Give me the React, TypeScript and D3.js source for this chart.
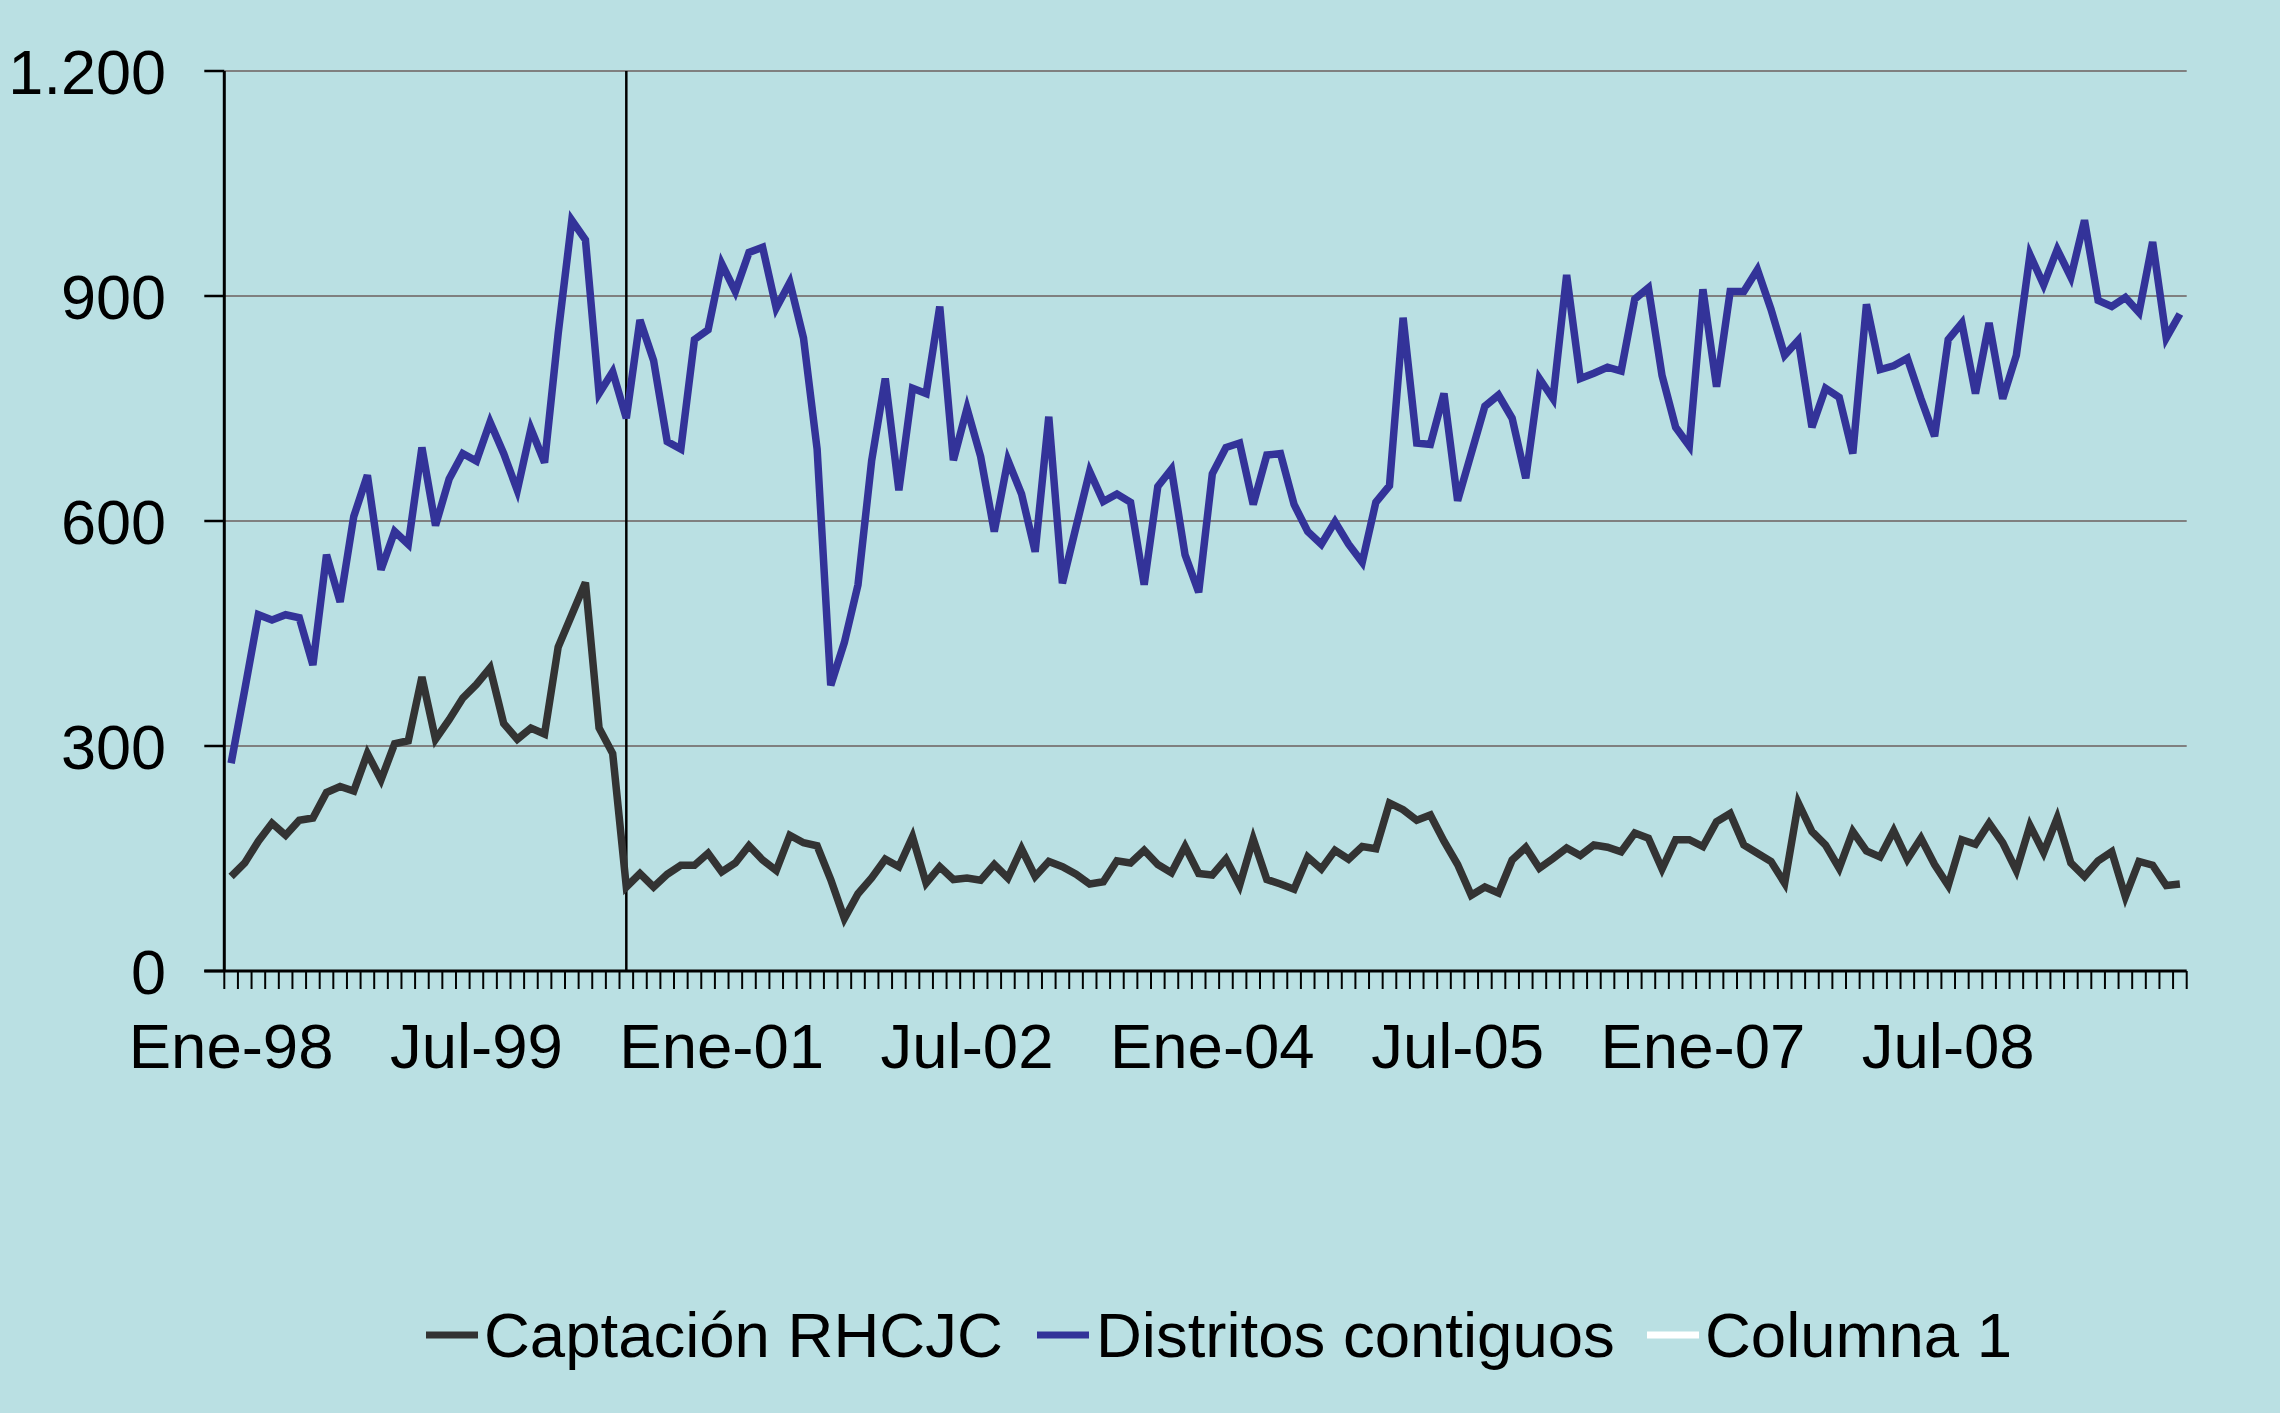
import React from "react";
import * as d3 from "d3";

const MONTHS = ["Ene", "Feb", "Mar", "Abr", "May", "Jun", "Jul", "Ago", "Sep", "Oct", "Nov", "Dic"];
const START_YEAR = 1998;
const N_MONTHS = 144;
const categories: string[] = Array.from({ length: N_MONTHS }, (_, i) => {
  const y = START_YEAR + Math.floor(i / 12);
  return `${MONTHS[i % 12]}-${String(y % 100).padStart(2, "0")}`;
});

const captacion = [
  126, 144, 173, 197, 181, 201, 204, 238, 246, 240, 290, 255, 303, 307, 392, 309, 335, 364, 382, 404, 330, 309, 324, 316,
  432, 475, 518, 324, 290, 112, 130, 112, 129, 141, 141, 157, 132, 144, 167, 148, 134, 181, 171, 167, 122, 70, 103, 124,
  149, 139, 179, 117, 139, 122, 124, 121, 142, 124, 163, 126, 146, 139, 129, 116, 119, 147, 144, 161, 142, 131, 166, 130,
  128, 149, 114, 176, 122, 116, 109, 152, 136, 161, 149, 166, 163, 224, 215, 201, 208, 173, 142, 101, 112, 104, 148, 165,
  137, 150, 164, 154, 168, 165, 159, 184, 177, 136, 175, 175, 166, 199, 210, 168, 157, 146, 117, 224, 186, 168, 137, 186,
  160, 152, 187, 149, 177, 142, 114, 175, 169, 197, 171, 134, 194, 158, 204, 144, 126, 147, 159, 99, 146, 141, 114, 116,
];

const distritos = [
  277, 375, 475, 468, 475, 471, 408, 555, 492, 606, 661, 535, 586, 569, 698, 594, 656, 690, 680, 732, 690, 641, 723, 678,
  850, 1001, 975, 770, 799, 737, 868, 814, 706, 696, 842, 855, 943, 906, 958, 965, 884, 918, 844, 696, 381, 438, 515, 680,
  790, 641, 777, 770, 886, 681, 750, 686, 586, 681, 636, 559, 739, 517, 592, 666, 626, 636, 625, 515, 646, 669, 555, 505,
  663, 698, 704, 622, 688, 690, 622, 586, 569, 599, 569, 545, 625, 647, 871, 704, 702, 770, 627, 690, 753, 768, 737, 657,
  790, 763, 928, 790, 797, 805, 800, 896, 911, 794, 725, 700, 909, 779, 906, 906, 935, 882, 821, 841, 725, 777, 765, 690,
  889, 802, 807, 817, 763, 713, 842, 864, 770, 864, 763, 821, 955, 915, 962, 925, 1001, 894, 886, 898, 878, 972, 844, 876,
];

const yTicks = [0, 300, 600, 900, 1200];
const yTickLabels = ["0", "300", "600", "900", "1.200"];
const xLabelIdx = [0, 18, 36, 54, 72, 90, 108, 126];
const markerIdx = 29;

const seriesNames = ["Captación RHCJC", "Distritos contiguos", "Columna 1"];
const seriesColors = ["#333333", "#333399", "#FFFFFF"];

const W = 2280;
const H = 1413;
const BG = "#BAE0E3";
const FONT = "'Liberation Sans', Arial, sans-serif";

export default function App() {
  const left = 224.3;
  const right = 2186.7;
  const top = 71;
  const bottom = 971;

  const x = d3.scaleBand<number>().domain(d3.range(N_MONTHS)).range([left, right]).paddingInner(0).paddingOuter(0);
  const cx = (i: number) => (x(i) as number) + x.bandwidth() / 2;
  const y = d3.scaleLinear().domain([0, 1200]).range([bottom, top]);

  const line = d3
    .line<number>()
    .x((_, i) => cx(i))
    .y((d) => y(d))
    .curve(d3.curveLinear);

  const tickXs = d3.range(N_MONTHS + 1).map((i) => left + i * x.bandwidth());

  const legendItems = [
    { mx: 426, tx: 484 },
    { mx: 1037, tx: 1096 },
    { mx: 1647, tx: 1705 },
  ];

  return (
    <svg
      width={W}
      height={H}
      style={{ position: "absolute", left: 0, top: 0, display: "block" }}
      xmlns="http://www.w3.org/2000/svg"
    >
      <rect x={0} y={0} width={W} height={H} fill={BG} />
      {yTicks.slice(1).map((t) => (
        <line key={t} x1={left} x2={right} y1={y(t)} y2={y(t)} stroke="#808080" strokeWidth={2} />
      ))}
      <line x1={left} x2={left} y1={top} y2={bottom + 1} stroke="#000" strokeWidth={3} />
      {yTicks.map((t, k) => (
        <g key={t}>
          <line x1={left - 20} x2={left} y1={y(t)} y2={y(t)} stroke="#000" strokeWidth={2.5} />
          <text x={166} y={y(t)} dy="0.36em" textAnchor="end" fontFamily={FONT} fontSize={63} fill="#000">
            {yTickLabels[k]}
          </text>
        </g>
      ))}
      <line x1={left - 20} x2={right} y1={bottom} y2={bottom} stroke="#000" strokeWidth={3} />
      {tickXs.map((tx, i) => (
        <line key={i} x1={tx} x2={tx} y1={bottom} y2={bottom + 18} stroke="#000" strokeWidth={2} />
      ))}
      {xLabelIdx.map((i) => (
        <text key={i} x={cx(i)} y={1068} textAnchor="middle" fontFamily={FONT} fontSize={63.5} fill="#000">
          {categories[i]}
        </text>
      ))}
      <line x1={cx(markerIdx)} x2={cx(markerIdx)} y1={top} y2={bottom} stroke="#000" strokeWidth={2.5} />
      <path d={line(captacion) || ""} fill="none" stroke={seriesColors[0]} strokeWidth={7.5} strokeLinejoin="miter" />
      <path d={line(distritos) || ""} fill="none" stroke={seriesColors[1]} strokeWidth={7.5} strokeLinejoin="miter" />
      {legendItems.map((it, k) => (
        <g key={k}>
          <line x1={it.mx} x2={it.mx + 52} y1={1335} y2={1335} stroke={seriesColors[k]} strokeWidth={7} />
          <text x={it.tx} y={1357} fontFamily={FONT} fontSize={63.5} fill="#000">
            {seriesNames[k]}
          </text>
        </g>
      ))}
    </svg>
  );
}
